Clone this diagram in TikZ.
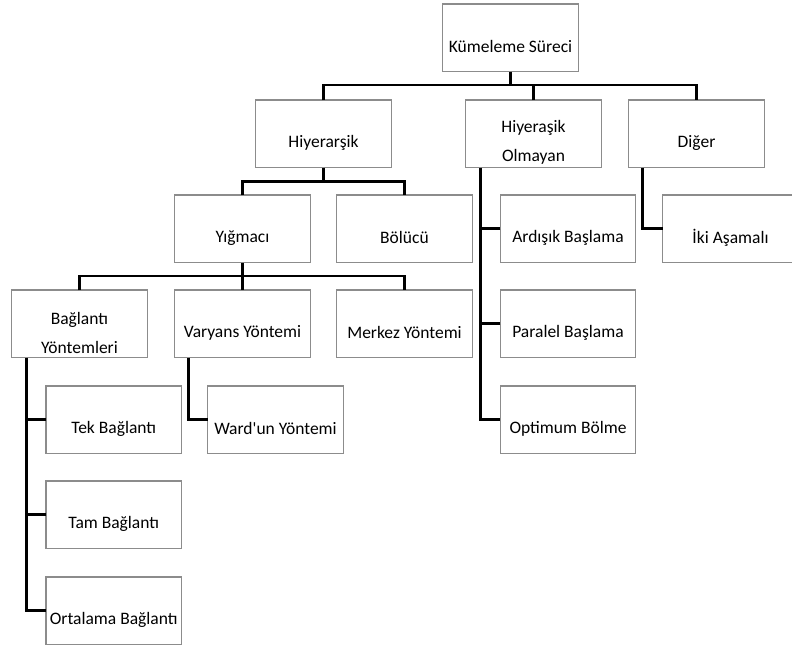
\documentclass[tikz,border=0pt]{standalone}
\usepackage{fontspec}
\setmainfont{Carlito}
\begin{document}
\begin{tikzpicture}[x=1pt,y=-1pt,
  box/.style={draw=black!45, line width=1.2pt, fill=white, minimum width=135.5pt, minimum height=67.5pt, inner sep=0pt, outer sep=0pt},
  txt/.style={font={\fontsize{17.5}{29}\selectfont}, align=center, inner sep=0pt},
  conn/.style={draw=black, line width=2.6pt, line join=miter}]
\useasboundingbox (0,0) rectangle (792,645);
\fill[white] (0,0) rectangle (792,645);
% boxes
\newcommand\mybx[4]{%
  \node[box] (#1) at (#2,#3) {};
  \node[txt] (#1t) at ([yshift=-9pt]#1.center) {#4};}
% row centers: 37.75, 133.75, 228.75, 323.75, 419.75, 514.75, 610.75
\mybx{k}{510.5}{37.75}{Kümeleme Süreci}
\mybx{h}{323.5}{133.75}{Hiyerarşik}
\mybx{ho}{533.5}{133.75}{Hiyeraşik\\Olmayan}
\mybx{d}{696.5}{133.75}{Diğer}
\mybx{yg}{242.5}{228.75}{Yığmacı}
\mybx{bl}{404.5}{228.75}{Bölücü}
\mybx{ard}{568}{228.75}{Ardışık Başlama}
\mybx{iki}{730.5}{228.75}{İki Aşamalı}
\mybx{bag}{79.5}{323.75}{Bağlantı\\Yöntemleri}
\mybx{var}{242.5}{323.75}{Varyans Yöntemi}
\mybx{mer}{404.5}{323.75}{Merkez Yöntemi}
\mybx{par}{568}{323.75}{Paralel Başlama}
\mybx{tek}{113.75}{419.75}{Tek Bağlantı}
\mybx{ward}{275.5}{419.75}{Ward\textquotesingle un Yöntemi}
\mybx{opt}{568}{419.75}{Optimum Bölme}
\mybx{tam}{113.75}{514.75}{Tam Bağlantı}
\mybx{ort}{113.75}{610.75}{Ortalama Bağlantı}
% level 1 -> 2
\coordinate (b1) at (510.5,85);
\draw[conn] (k.south) -- (b1);
\draw[conn] (h.north) |- (b1) -| (d.north);
\draw[conn] (ho.north) -- (ho.north |- b1);
% level 2 -> 3
\coordinate (b2) at (323.5,181.75);
\draw[conn] (h.south) -- (b2);
\draw[conn] (yg.north) |- (b2) -| (bl.north);
% level 3 -> 4
\coordinate (b3) at (242.5,276);
\draw[conn] (yg.south) -- (var.north);
\draw[conn] (bag.north) |- (b3) -| (mer.north);
% elbows
\coordinate (bagd) at ([xshift=14.5pt]bag.south west);
\draw[conn] (bagd) |- (ort.west);
\draw[conn] (tek.west) -- (tek.west -| bagd);
\draw[conn] (tam.west) -- (tam.west -| bagd);
\coordinate (vard) at ([xshift=14pt]var.south west);
\draw[conn] (vard) |- (ward.west);
\coordinate (hod) at ([xshift=15pt]ho.south west);
\draw[conn] (hod) |- (opt.west);
\draw[conn] (ard.west) -- (ard.west -| hod);
\draw[conn] (par.west) -- (par.west -| hod);
\coordinate (dd) at ([xshift=14pt]d.south west);
\draw[conn] (dd) |- (iki.west);
\end{tikzpicture}
\end{document}
